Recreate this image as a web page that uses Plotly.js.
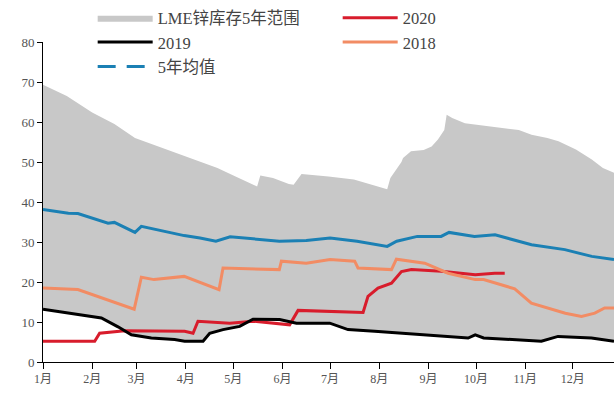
<!DOCTYPE html>
<html><head><meta charset="utf-8">
<script src="https://cdn.plot.ly/plotly-3.0.1.min.js"></script>
<style>html,body{margin:0;padding:0;background:#fff;}#chart{width:614px;height:400px;}</style>
</head><body><div id="chart"></div>
<script>
// day-of-year positions (0 = 1 Jan)
const monthTicks = [0,31,59,90,120,151,181,212,243,273,304,334];
const monthLabels = ["1月","2月","3月","4月","5月","6月","7月","8月","9月","10月","11月","12月"];

// 5-year range upper bound
const maxDays = [0,15,31,45,58,65,75,89,93,110,117,126,135,137,145,155,158,163,170,180,196,210,217,219,226,227,232,240,245,249,253,254.5,258,266,280,285,300,308,318,325,336,346,353,360];
const maxVals = [69.3,66.5,62.4,59.5,56,55,53.5,51.5,51,48.5,47.2,45.5,43.9,46.6,46,44.5,44.3,47,46.8,46.4,45.6,44,43.2,46,50,51,52.7,53,53.9,55.6,58,61.8,61,59.7,59,58.9,58,56.8,56,55.2,53.1,50.6,48.5,47.3];
// 5-year range lower bound
const minDays = [0,15.8,36.8,47.3,55.7,68.3,83,89.3,100.9,105.1,113.5,124,132.4,149.2,159.8,180.8,192.3,209.1,240.7,257.5,268,272.5,277.8,314.2,324.7,345.8,360];
const minVals = [13.0,12.0,10.8,8.6,6.6,5.8,5.4,5.0,5.0,7.0,7.9,8.7,10.5,10.4,9.5,9.5,7.9,7.5,6.6,6.2,5.8,6.6,5.8,5.0,6.2,5.8,5.0];

// 5-year average
const avgDays = [0,16,22,41,45,58,62,75,89,99,109,118,135,149,166,181,198,217,223,236,251,256,272,285,308,329,346,360];
const avgVals = [38.1,37.2,37.1,34.7,34.9,32.4,33.9,32.7,31.6,31,30.2,31.3,30.6,30.2,30.4,31,30.2,28.9,30.2,31.4,31.4,32.4,31.4,31.8,29.3,28.1,26.4,25.6];

// 2018
const d2018 = [0,22,57.5,62,70,89,111,113.5,149,150.3,166,181,196.5,198.6,219.7,222.8,240.7,255.4,272.5,277.8,297.4,307.9,329.3,339.5,347.9,354.1,360];
const v2018 = [18.5,18.1,13.2,21.2,20.6,21.4,18.1,23.5,23.1,25.2,24.7,25.6,25.2,23.5,23.1,25.7,24.7,22.2,20.6,20.6,18.3,14.7,12.2,11.4,12.2,13.5,13.5];

// 2019
const d2019 = [0,15.8,36.8,47.3,55.7,68.3,83,89.3,100.9,105.1,113.5,124,132.4,149.2,159.8,180.8,192.3,209.1,240.7,257.5,268,272.5,277.8,314.2,324.7,345.8,360];
const v2019 = [13.2,12.2,11,8.8,6.8,6,5.6,5.2,5.2,7.2,8.1,8.9,10.7,10.6,9.7,9.7,8.1,7.7,6.8,6.4,6,6.8,6,5.2,6.4,6,5.2];

// 2020
const d2020 = [0,32.6,35.7,51.5,89.3,94.6,97.7,117.7,132.4,155.5,160.8,180.8,201.8,204.9,211.2,219.7,226,232.3,251.2,272.5,284.8,291.1];
const v2020 = [5.2,5.2,7.2,7.8,7.7,7.2,10.2,9.7,10.2,9.3,12.9,12.7,12.4,16.4,18.5,19.7,22.6,23.1,22.7,21.8,22.2,22.2];

const yTicks = [0,10,20,30,40,50,60,70,80];

const serif = '"Liberation Serif","Noto Sans CJK SC",serif';
const traces = [
  {x: minDays, y: minVals, mode:'lines', line:{width:0, color:'#c8c8c8'}, showlegend:false, hoverinfo:'skip'},
  {x: maxDays, y: maxVals, mode:'lines', fill:'tonexty', fillcolor:'#c8c8c8', line:{width:0, color:'#c8c8c8'}, name:'LME锌库存5年范围', legendrank:1},
  {x: d2020, y: v2020, mode:'lines', line:{color:'#d81c2c', width:3}, name:'2020', legendrank:2},
  {x: d2019, y: v2019, mode:'lines', line:{color:'#000000', width:3}, name:'2019', legendrank:3},
  {x: d2018, y: v2018, mode:'lines', line:{color:'#f28c64', width:3}, name:'2018', legendrank:4},
  {x: avgDays, y: avgVals, mode:'lines', line:{color:'#1b80b4', width:3}, name:'5年均值', showlegend:false},
  {x: [null], y: [null], mode:'lines', line:{color:'#1b80b4', width:3, dash:'18px,11px'}, name:'5年均值', legendrank:5}
];

const layout = {
  width:614, height:400,
  margin:{l:43, r:0, t:42, b:38},
  paper_bgcolor:'#fff', plot_bgcolor:'#fff',
  font:{family:serif, color:'#555', size:12},
  showlegend:true,
  legend:{orientation:'h', x:0.087, y:1.13, xanchor:'left', yanchor:'top',
          entrywidth:175, entrywidthmode:'pixels', itemwidth:55, traceorder:'normal',
          bgcolor:'rgba(0,0,0,0)', font:{family:serif, size:16.5, color:'#444'}, tracegroupgap:0},
  xaxis:{range:[0,360], tickvals:monthTicks, ticktext:monthLabels, showgrid:false, zeroline:false,
         showline:true, linecolor:'#000', linewidth:1, ticks:'outside', ticklen:6, tickcolor:'#000',
         tickfont:{family:serif, size:12, color:'#555'}, fixedrange:true},
  yaxis:{range:[0,80], tickvals:yTicks, showgrid:false, zeroline:false,
         showline:true, linecolor:'#000', linewidth:1, ticks:'outside', ticklen:5, tickcolor:'#000',
         tickfont:{family:serif, size:13, color:'#555'}, fixedrange:true}
};
Plotly.newPlot('chart', traces, layout, {displayModeBar:false, staticPlot:true});
</script></body></html>
